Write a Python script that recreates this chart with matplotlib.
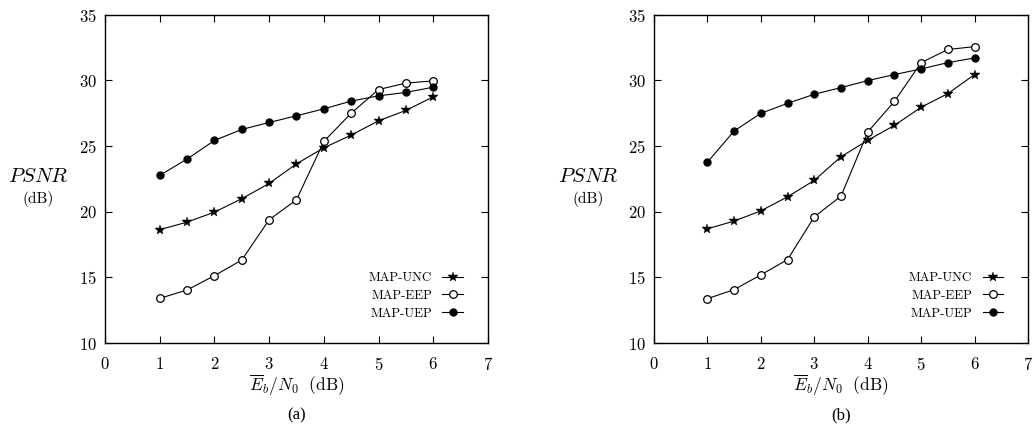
import matplotlib
matplotlib.use('Agg')
import matplotlib.pyplot as plt

plt.rcParams['font.family'] = 'serif'
plt.rcParams['font.serif'] = ['cmr10', 'DejaVu Serif']
plt.rcParams['mathtext.fontset'] = 'cm'
plt.rcParams['axes.formatter.use_mathtext'] = True

ebn0 = [1, 1.5, 2, 2.5, 3, 3.5, 4, 4.5, 5, 5.5, 6]

# panel (a)
unc_a = [18.63, 19.21, 19.97, 20.99, 22.16, 23.65, 24.87, 25.84, 26.93, 27.72, 28.76]
eep_a = [13.40, 14.04, 15.13, 16.32, 19.39, 20.91, 25.36, 27.51, 29.31, 29.80, 29.97]
uep_a = [22.77, 24.01, 25.43, 26.27, 26.80, 27.31, 27.84, 28.43, 28.83, 29.09, 29.49]

# panel (b)
unc_b = [18.70, 19.29, 20.07, 21.14, 22.39, 24.19, 25.44, 26.58, 27.96, 29.00, 30.45]
eep_b = [13.38, 14.07, 15.19, 16.36, 19.61, 21.19, 26.07, 28.41, 31.36, 32.36, 32.58]
uep_b = [23.78, 26.15, 27.50, 28.26, 28.95, 29.46, 29.99, 30.45, 30.88, 31.36, 31.72]

labels = ['MAP-UNC', 'MAP-EEP', 'MAP-UEP']
captions = ['(a)', '(b)']

fig = plt.figure(figsize=(10.34, 4.24), dpi=100)
ax1 = fig.add_axes([0.1015, 0.191, 0.3705, 0.774])
ax2 = fig.add_axes([0.6325, 0.191, 0.3617, 0.774])


def panel(ax, unc, eep, uep, cap):
    ax.plot(ebn0, unc, '-', c='k', lw=0.8, marker='*', ms=7.5, mew=0.3, label=labels[0])
    ax.plot(ebn0, eep, '-', c='k', lw=0.8, marker='o', ms=5.5, mfc='white',
            mec='k', mew=0.9, label=labels[1])
    ax.plot(ebn0, uep, '-', c='k', lw=0.8, marker='o', ms=5, label=labels[2])
    ax.set_xlim(0, 7)
    ax.set_ylim(10, 35)
    ax.set_xticks(range(0, 8))
    ax.set_yticks(range(10, 36, 5))
    ax.tick_params(direction='in', top=True, right=True, length=5,
                   width=0.8, labelsize=12)
    ax.tick_params(axis='x', pad=9)
    ax.tick_params(axis='y', pad=6)
    for s in ax.spines.values():
        s.set_linewidth(1.0)
    ax.set_xlabel(r'$\overline{E}_b/N_0\ \ \mathrm{(dB)}$', fontsize=12.5, labelpad=0)
    ax.text(-0.175, 0.505, r'$PSNR$', transform=ax.transAxes, fontsize=15,
            ha='center', va='center')
    ax.text(-0.175, 0.44, '(dB)', transform=ax.transAxes, fontsize=11,
            ha='center', va='center')
    ax.text(0.5, -0.22, cap, transform=ax.transAxes, fontsize=12,
            ha='center', va='center', family='Liberation Serif')
    ax.legend(loc='lower right', bbox_to_anchor=(0.965, 0.035), frameon=False,
              markerfirst=False, fontsize=9.3, handlelength=1.6,
              handletextpad=0.8, labelspacing=0.45)


panel(ax1, unc_a, eep_a, uep_a, captions[0])
panel(ax2, unc_b, eep_b, uep_b, captions[1])

plt.savefig('out.png', dpi=100)
